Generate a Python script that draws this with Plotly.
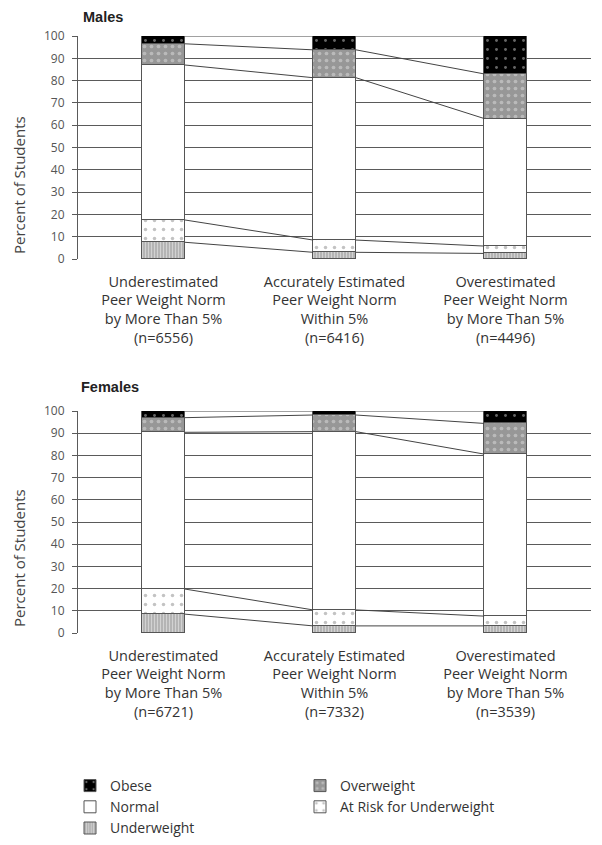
import plotly.graph_objects as go

categories = [
    "Underestimated<br>Peer Weight Norm<br>by More Than 5%<br>(n=6556)",
    "Accurately Estimated<br>Peer Weight Norm<br>Within 5%<br>(n=6416)",
    "Overestimated<br>Peer Weight Norm<br>by More Than 5%<br>(n=4496)",
]
categories_f = [
    "Underestimated<br>Peer Weight Norm<br>by More Than 5%<br>(n=6721)",
    "Accurately Estimated<br>Peer Weight Norm<br>Within 5%<br>(n=7332)",
    "Overestimated<br>Peer Weight Norm<br>by More Than 5%<br>(n=3539)",
]
series_names = ["Underweight", "At Risk for Underweight", "Normal", "Overweight", "Obese"]

males_underweight = [7.5, 3.0, 2.5]
males_atrisk = [10.0, 5.5, 3.3]
males_normal = [69.5, 72.8, 57.2]
males_overweight = [9.5, 12.5, 20.0]
males_obese = [3.5, 6.2, 17.0]

females_underweight = [8.5, 3.2, 3.2]
females_atrisk = [11.3, 7.2, 4.4]
females_normal = [70.6, 80.3, 73.0]
females_overweight = [6.6, 7.5, 13.8]
females_obese = [3.0, 1.8, 5.6]

y_ticks = list(range(0, 101, 10))

styles = {
    "Underweight": dict(color="#b8b8b8", pattern=dict(shape="|", fgcolor="#f0f0f0", bgcolor="#b4b4b4", size=3, solidity=0.35)),
    "At Risk for Underweight": dict(color="white", pattern=dict(shape=".", fgcolor="#888888", bgcolor="white", size=9, solidity=0.12)),
    "Normal": dict(color="white", pattern=dict(shape="")),
    "Overweight": dict(color="#999999", pattern=dict(shape=".", fgcolor="#dddddd", bgcolor="#979797", size=7, solidity=0.22)),
    "Obese": dict(color="black", pattern=dict(shape=".", fgcolor="#cccccc", bgcolor="black", size=9, solidity=0.08)),
}

BAR_W = 0.25
EDGE = "#555555"
fig = go.Figure()

def add_panel(data, xa, ya, legend):
    xs = [0, 1, 2]
    for name, vals in zip(series_names, data):
        st = styles[name]
        fig.add_trace(go.Bar(
            x=xs, y=vals, name=name, width=BAR_W, xaxis=xa, yaxis=ya,
            marker=dict(color=st["color"], pattern=st["pattern"], line=dict(color=EDGE, width=1)),
            showlegend=legend, legendgroup=name,
        ))
    # series lines connecting cumulative tops
    cum = []
    run = [0, 0, 0]
    for vals in data:
        run = [r + v for r, v in zip(run, vals)]
        cum.append(list(run))
    lx, ly = [], []
    for level in cum:
        for i in range(2):
            lx += [xs[i] + BAR_W / 2, xs[i + 1] - BAR_W / 2, None]
            ly += [level[i], level[i + 1], None]
    fig.add_trace(go.Scatter(x=lx, y=ly, mode="lines", xaxis=xa, yaxis=ya,
                             line=dict(color="#444444", width=1), showlegend=False, hoverinfo="skip"))

add_panel([males_underweight, males_atrisk, males_normal, males_overweight, males_obese], "x", "y", True)
add_panel([females_underweight, females_atrisk, females_normal, females_overweight, females_obese], "x2", "y2", False)

# The page body has an 8px margin, so the figure is drawn 8px in from the window corner.
OFF = 8
W, H = 602 - OFF, 845 - OFF

def px(x):
    return (x - OFF) / W

def py(y):
    return 1 - (y - OFF) / H

xdom = [px(78), px(591)]
top_dom = [py(259), py(36)]
bot_dom = [py(633), py(411)]

label_font = dict(family="Open Sans, sans-serif", size=14.5, color="#333333")
tick_font = dict(family="Open Sans, sans-serif", size=12, color="#555555")

def xaxis_cfg(dom, text, anchor):
    return dict(domain=dom, range=[-0.5, 2.5], tickvals=[0, 1, 2], ticktext=text,
                showgrid=False, zeroline=False, showline=False, ticks="",
                tickfont=label_font, ticklabelstandoff=12, anchor=anchor, fixedrange=True,
                automargin=False)

def yaxis_cfg(dom, anchor):
    return dict(domain=dom, range=[0, 100], tickvals=y_ticks, showgrid=True, gridcolor="#5a5a5a",
                gridwidth=1, zeroline=False, showline=True, linecolor="#5a5a5a", linewidth=1,
                ticks="outside", ticklen=5, tickcolor="#5a5a5a", tickfont=tick_font,
                ticklabelstandoff=5, anchor=anchor, fixedrange=True, automargin=False)

title_font = dict(family="Liberation Sans, Arial, sans-serif", size=14.5, color="#222222")
ytitle_font = dict(family="Open Sans, sans-serif", size=15, color="#444444")

fig.update_layout(
    width=W, height=H,
    margin=dict(l=0, r=0, t=0, b=0, autoexpand=False),
    paper_bgcolor="white", plot_bgcolor="white",
    barmode="stack", bargap=0,
    showlegend=True,
    xaxis=xaxis_cfg(xdom, categories, "y"),
    yaxis=yaxis_cfg(top_dom, "x"),
    xaxis2=xaxis_cfg(xdom, categories_f, "y2"),
    yaxis2=yaxis_cfg(bot_dom, "x2"),
    legend=dict(orientation="h", traceorder="reversed", x=px(70), xanchor="left",
                y=py(770), yanchor="top", entrywidth=185, entrywidthmode="pixels",
                font=dict(family="Open Sans, sans-serif", size=14, color="#333333"),
                bgcolor="rgba(0,0,0,0)"),
    annotations=[
        dict(text="<b>Males</b>", x=px(82), y=py(8), xref="paper", yref="paper",
             xanchor="left", yanchor="top", showarrow=False, borderpad=0, font=title_font),
        dict(text="<b>Females</b>", x=px(80), y=py(378), xref="paper", yref="paper",
             xanchor="left", yanchor="top", showarrow=False, borderpad=0, font=title_font),
        dict(text="Percent of Students", x=px(8), y=py(185), xref="paper", yref="paper",
             textangle=-90, xanchor="left", yanchor="middle", showarrow=False, borderpad=0,
             font=ytitle_font),
        dict(text="Percent of Students", x=px(8), y=py(558), xref="paper", yref="paper",
             textangle=-90, xanchor="left", yanchor="middle", showarrow=False, borderpad=0,
             font=ytitle_font),
    ],
)

fig.write_html("out.html")
